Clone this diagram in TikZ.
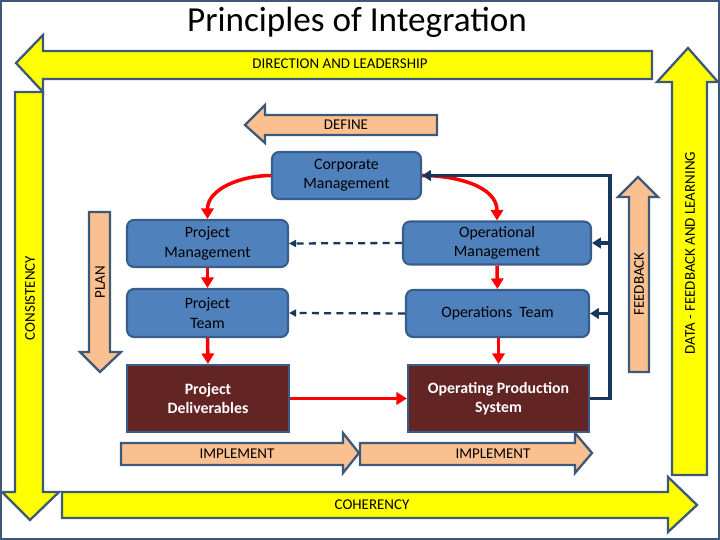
\documentclass[tikz,border=0pt]{standalone}
\usepackage{fontspec}
\setmainfont{Carlito}
\usetikzlibrary{arrows.meta}
\definecolor{yel}{HTML}{FFFF00}
\definecolor{edge}{HTML}{3E5879}
\definecolor{salmon}{HTML}{FAC090}
\definecolor{bbox}{HTML}{4F81BD}
\definecolor{bedge}{HTML}{385D8A}
\definecolor{dred}{HTML}{632523}
\definecolor{navy}{HTML}{17375E}
\begin{document}
\begin{tikzpicture}[x=0.02cm,y=-0.02cm,
  yarrow/.style={fill=yel,draw=edge,line width=1.3pt,line join=miter},
  sarrow/.style={fill=salmon,draw=edge,line width=1.3pt,line join=miter},
  lbl/.style={font=\fontsize{8.5}{10}\selectfont,inner sep=0pt},
  box/.style={fill=bbox,draw=bedge,line width=1.2pt,rounded corners=4pt,align=center,font=\fontsize{9}{11}\selectfont,inner sep=1pt},
  dbox/.style={fill=dred,draw=bedge,line width=1.2pt,align=center,text=white,font=\bfseries\fontsize{9}{11}\selectfont,inner sep=1pt},
  redarr/.style={draw=red,line width=2pt,-{Triangle[length=6pt,width=7pt]}},
  dasharr/.style={draw=navy,line width=1.3pt,dash pattern=on 4pt off 3pt,-{Triangle[length=4pt,width=4pt]}},
  navarr/.style={draw=navy,line width=2pt,-{Triangle[length=5pt,width=6pt]}}]
\useasboundingbox (0,0) rectangle (720,540);
\draw[edge,line width=1.2pt] (1,1) rectangle (719,539);
\node[font=\fontsize{20}{24}\selectfont] (title) at (357,22) {Principles of Integration};
% yellow arrows
\draw[yarrow] (652,51) -- (652,79) -- (43,79) -- (43,92) -- (16,63) -- (43,35) -- (43,51) -- cycle;
\node[lbl] (dl) at (340,64) {DIRECTION AND LEADERSHIP};
\draw[yarrow] (15,92) -- (43,92) -- (43,492) -- (59,492) -- (30,520) -- (2,492) -- (15,492) -- cycle;
\node[lbl,rotate=90] (cons) at (30,298) {CONSISTENCY};
\draw[yarrow] (62,492) -- (668,492) -- (668,477) -- (697,505) -- (668,532) -- (668,518) -- (62,518) -- cycle;
\node[lbl] (coh) at (372,505) {COHERENCY};
\draw[yarrow] (672,475) -- (672,82) -- (657,82) -- (688,48) -- (718,82) -- (707,82) -- (707,475) -- cycle;
\node[lbl,rotate=90] (data) at (690,253) {DATA - FEEDBACK AND LEARNING};
% salmon arrows
\draw[sarrow] (437,115) -- (437,135) -- (265,135) -- (265,143) -- (245,125) -- (265,105) -- (265,115) -- cycle;
\node[lbl] (def) at (346,125) {DEFINE};
\draw[sarrow] (89,212) -- (110,212) -- (110,352) -- (121,352) -- (100,372) -- (80,352) -- (89,352) -- cycle;
\node[lbl,rotate=90] (plan) at (100,282) {PLAN};
\draw[sarrow] (629,372) -- (629,197) -- (618,197) -- (638,177) -- (658,197) -- (649,197) -- (649,372) -- cycle;
\node[lbl,rotate=90] (fb) at (639,284) {FEEDBACK};
\draw[sarrow] (121,443) -- (343,443) -- (343,433) -- (359,453) -- (343,473) -- (343,465) -- (121,465) -- cycle;
\node[lbl] (imp1) at (237,454) {IMPLEMENT};
\draw[sarrow] (360,443) -- (575,443) -- (575,433) -- (592,453) -- (575,473) -- (575,465) -- (360,465) -- cycle;
\node[lbl] (imp2) at (493,454) {IMPLEMENT};
% boxes
\node[box,minimum width=2.98cm,minimum height=0.94cm] (corp) at (346.5,175.5) {Corporate\\Management};
\node[box,minimum width=3.22cm,minimum height=0.94cm] (pm) at (207.5,243.5) {Project\\Management};
\node[box,minimum width=3.76cm,minimum height=0.86cm] (om) at (497,243) {Operational\\Management};
\node[box,minimum width=3.22cm,minimum height=0.96cm] (pt) at (207.5,313) {Project\\Team};
\node[box,minimum width=3.66cm,minimum height=0.94cm] (ot) at (497.5,313.5) {Operations~ Team};
\node[dbox,minimum width=3.24cm,minimum height=1.34cm] (pd) at (208,398.5) {Project\\Deliverables};
\node[dbox,minimum width=3.62cm,minimum height=1.34cm] (ops) at (498.5,398.5) {Operating Production\\System};
% red arrows
\draw[redarr] (corp.west) to[out=180,in=90] (pm.north);
\draw[redarr] (corp.east) to[out=0,in=90] (om.north);
\draw[redarr] (pm.south) -- (pt.north);
\draw[redarr] (om.south) -- (ot.north);
\draw[redarr] (pt.south) -- (pd.north);
\draw[redarr] (ot.south -| ops.north) -- (ops.north);
\draw[redarr] (pd.east) -- (ops.west);
% dashed
\draw[dasharr] (om.west) -- (pm.east);
\draw[dasharr] (ot.west) -- (pt.east);
% navy feedback
\coordinate (nb) at (610,398.5);
\coordinate (nt) at (610,175.5);
\coordinate (n1) at (610,243);
\coordinate (n2) at (610,313.5);
\draw[navarr] (ops.east) -- (nb) -- (nt) -- (corp.east);
\draw[navarr] (n1) -- (om.east);
\draw[navarr] (n2) -- (ot.east);
\end{tikzpicture}
\end{document}
